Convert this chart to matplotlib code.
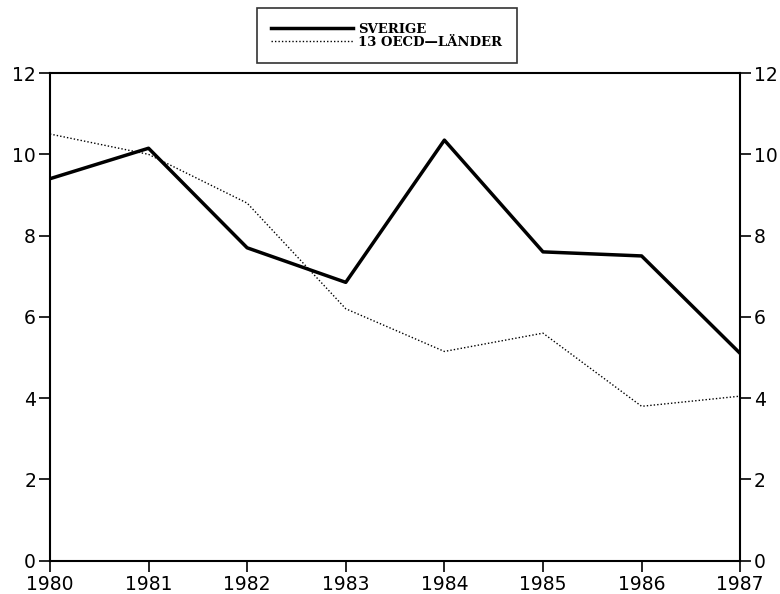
import matplotlib.pyplot as plt
from matplotlib.ticker import MultipleLocator

years = [1980, 1981, 1982, 1983, 1984, 1985, 1986, 1987]
sverige = [9.4, 10.15, 7.7, 6.85, 10.35, 7.6, 7.5, 5.1]
oecd = [10.5, 10.0, 8.8, 6.2, 5.15, 5.6, 3.8, 4.05]

fig = plt.figure(figsize=(7.8, 5.94), dpi=100)
ax = fig.add_axes([0.064, 0.056, 0.885, 0.821])

ax.plot(years, sverige, color="black", linewidth=2.5, label="SVERIGE")
ax.plot(years, oecd, color="black", linewidth=1.0, linestyle=(0, (1, 1.5)), label="13 OECD\u2014LÄNDER")

ax.set_xlim(1980, 1987)
ax.set_ylim(0, 12)
ax.yaxis.set_major_locator(MultipleLocator(2))
ax.xaxis.set_major_locator(MultipleLocator(1))

ax.tick_params(axis="both", direction="out", length=8, width=1.2, labelsize=13.5, pad=2)
ax.tick_params(axis="y", right=True, labelright=True)
for s in ax.spines.values():
    s.set_linewidth(1.5)

leg = ax.legend(loc="lower center", bbox_to_anchor=(0.488, 1.02), frameon=True, fancybox=False,
                edgecolor="black", handlelength=6.2, handletextpad=0.4, borderpad=1.1,
                labelspacing=0.0, borderaxespad=0,
                prop={"family": "DejaVu Serif", "weight": "bold", "size": 9.5})
leg.get_frame().set_linewidth(1.2)

plt.savefig("out.png")
